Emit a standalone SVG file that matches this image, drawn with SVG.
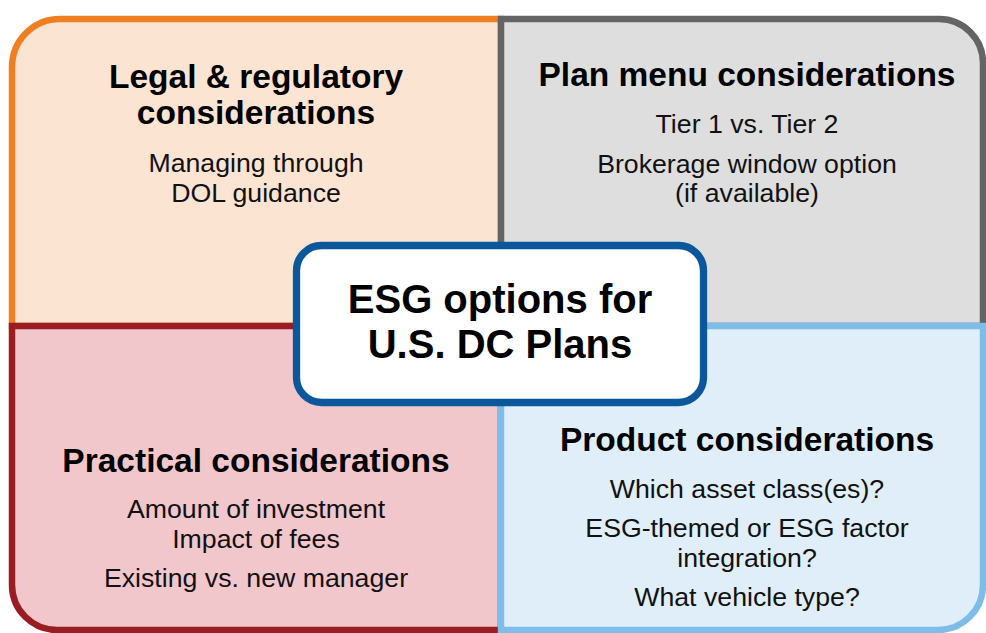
<svg xmlns="http://www.w3.org/2000/svg" width="986" height="633" viewBox="0 0 986 633">
<style>
  .q { stroke-width: 6.5; stroke-linejoin: miter; }
  .title { font-family: "Liberation Sans", Arial, sans-serif; font-weight: bold; font-size: 33.5px; fill: #000; text-anchor: middle; }
  .body { font-family: "Liberation Sans", Arial, sans-serif; font-size: 26.7px; fill: #111; text-anchor: middle; }
  .center { font-family: "Liberation Sans", Arial, sans-serif; font-weight: bold; font-size: 40px; fill: #000; text-anchor: middle; }
</style>
<rect width="986" height="633" fill="#ffffff"/>
<g id="legal">
  <path class="q" d="M12,326 V67 A48,48 0 0 1 60,19 H501 V326 Z" fill="#FCE4D3" stroke="#F07F22"/>
  <text class="title" x="256" y="88">Legal &amp; regulatory</text>
  <text class="title" x="256" y="124">considerations</text>
  <text class="body" x="256" y="172">Managing through</text>
  <text class="body" x="256" y="202">DOL guidance</text>
</g>
<g id="planmenu">
  <path class="q" d="M501,326 V19 H939 A44,44 0 0 1 983,63 V326 Z" fill="#DEDEDF" stroke="#646464"/>
  <text class="title" x="747" y="86">Plan menu considerations</text>
  <text class="body" x="747" y="133">Tier 1 vs. Tier 2</text>
  <text class="body" x="747" y="173">Brokerage window option</text>
  <text class="body" x="747" y="202">(if available)</text>
</g>
<g id="practical">
  <path class="q" d="M12,326 H501 V630 H57 A45,45 0 0 1 12,585 Z" fill="#F2C7CB" stroke="#9A1D23"/>
  <text class="title" x="256" y="472">Practical considerations</text>
  <text class="body" x="256" y="518">Amount of investment</text>
  <text class="body" x="256" y="548">Impact of fees</text>
  <text class="body" x="256" y="587">Existing vs. new manager</text>
</g>
<g id="product">
  <path class="q" d="M501,326 H983 V585 A45,45 0 0 1 938,630 H501 Z" fill="#DFEEF8" stroke="#7DBDE7"/>
  <text class="title" x="747" y="451">Product considerations</text>
  <text class="body" x="747" y="498">Which asset class(es)?</text>
  <text class="body" x="747" y="537">ESG-themed or ESG factor</text>
  <text class="body" x="747" y="567">integration?</text>
  <text class="body" x="747" y="606">What vehicle type?</text>
</g>
<g id="center">
  <rect x="296.5" y="245.5" width="407" height="157" rx="25" ry="25" fill="#ffffff" stroke="#0B579C" stroke-width="7.3"/>
  <text class="center" x="500" y="313">ESG options for</text>
  <text class="center" x="500" y="358">U.S. DC Plans</text>
</g>
</svg>
